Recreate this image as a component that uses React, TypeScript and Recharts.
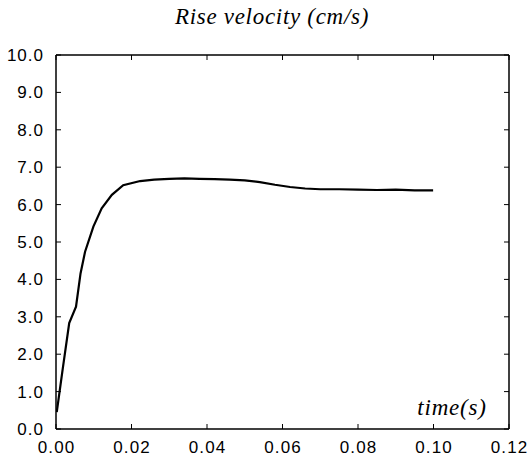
import React from "react";
import { LineChart, Line, XAxis, YAxis } from "recharts";

const timeValues = [0.0002, 0.0018, 0.0035, 0.0053, 0.0065, 0.0077, 0.0099, 0.0121, 0.0148, 0.0178, 0.0223, 0.026, 0.03, 0.034, 0.038, 0.042, 0.046, 0.05, 0.054, 0.058, 0.062, 0.066, 0.07, 0.075, 0.08, 0.085, 0.09, 0.095, 0.0999];
const velocityValues = [0.45, 1.62, 2.83, 3.27, 4.16, 4.74, 5.41, 5.9, 6.26, 6.52, 6.63, 6.67, 6.69, 6.7, 6.69, 6.68, 6.67, 6.65, 6.6, 6.53, 6.47, 6.43, 6.41, 6.41, 6.4, 6.39, 6.4, 6.38, 6.38];
const xTicks = [0, 0.02, 0.04, 0.06, 0.08, 0.1, 0.12];
const yTicks = [0, 1, 2, 3, 4, 5, 6, 7, 8, 9, 10];
const titleText = "Rise velocity (cm/s)";
const xLabelText = "time(s)";

const data = timeValues.map((t, i) => ({ t, v: velocityValues[i] }));

const TICK_LEN = 5;
const tickFont = "'Liberation Sans', Arial, sans-serif";
const serifFont = "'Liberation Serif', 'Times New Roman', serif";

const BottomTick = (props: any) => {
  const { x, y, payload } = props;
  return (
    <g>
      <line x1={x} x2={x} y1={y} y2={y - TICK_LEN} stroke="#000" strokeWidth={1} />
      <text x={x + 0.6} y={y + 24} textAnchor="middle" fontFamily={tickFont} fontSize={17} letterSpacing={1.2} fill="#000">
        {Number(payload.value).toFixed(2)}
      </text>
    </g>
  );
};

const TopTick = (props: any) => {
  const { x, y } = props;
  return <line x1={x} x2={x} y1={y} y2={y + TICK_LEN} stroke="#000" strokeWidth={1} />;
};

const LeftTick = (props: any) => {
  const { x, y, payload } = props;
  return (
    <g>
      <line x1={x} x2={x + TICK_LEN} y1={y} y2={y} stroke="#000" strokeWidth={1} />
      <text x={x - 12} y={y + 6} textAnchor="end" fontFamily={tickFont} fontSize={17} letterSpacing={1} fill="#000">
        {Number(payload.value).toFixed(1)}
      </text>
    </g>
  );
};

const RightTick = (props: any) => {
  const { x, y } = props;
  return <line x1={x} x2={x - TICK_LEN} y1={y} y2={y} stroke="#000" strokeWidth={1} />;
};

export default function App() {
  return (
    <div style={{ position: "absolute", left: 0, top: 0, width: 531, height: 461, background: "#fff" }}>
      <LineChart width={531} height={461} data={data} margin={{ top: 50, right: 17, left: 0, bottom: 0 }}>
        <XAxis
          dataKey="t"
          type="number"
          domain={[0, 0.12]}
          ticks={xTicks}
          xAxisId="bottom"
          orientation="bottom"
          height={32}
          tickSize={0}
          tickMargin={0}
          tickLine={false}
          tick={<BottomTick />}
          axisLine={{ stroke: "#000", strokeWidth: 1.5 }}
          allowDataOverflow
          interval={0}
        />
        <XAxis
          dataKey="t"
          type="number"
          domain={[0, 0.12]}
          ticks={xTicks}
          xAxisId="top"
          orientation="top"
          height={5}
          tickSize={0}
          tickMargin={0}
          tickLine={false}
          tick={<TopTick />}
          axisLine={{ stroke: "#000", strokeWidth: 1.5 }}
          allowDataOverflow
          interval={0}
        />
        <YAxis
          type="number"
          domain={[0, 10]}
          ticks={yTicks}
          yAxisId="left"
          orientation="left"
          width={56}
          tickSize={0}
          tickMargin={0}
          tickLine={false}
          tick={<LeftTick />}
          axisLine={{ stroke: "#000", strokeWidth: 1.5 }}
          allowDataOverflow
          interval={0}
        />
        <YAxis
          type="number"
          domain={[0, 10]}
          ticks={yTicks}
          yAxisId="right"
          orientation="right"
          width={5}
          tickSize={0}
          tickMargin={0}
          tickLine={false}
          tick={<RightTick />}
          axisLine={{ stroke: "#000", strokeWidth: 1.5 }}
          allowDataOverflow
          interval={0}
        />
        <Line
          xAxisId="bottom"
          yAxisId="left"
          dataKey="v"
          type="linear"
          stroke="#000"
          strokeWidth={2.2}
          dot={false}
          isAnimationActive={false}
        />
      </LineChart>
      <svg width={531} height={461} style={{ position: "absolute", left: 0, top: 0, pointerEvents: "none" }}>
        <text x={272} y={24} textAnchor="middle" fontFamily={serifFont} fontStyle="italic" fontSize={23} letterSpacing={0.7} fill="#000">
          {titleText}
        </text>
        <text x={452} y={415} textAnchor="middle" fontFamily={serifFont} fontStyle="italic" fontSize={23} letterSpacing={0.8} fill="#000">
          {xLabelText}
        </text>
      </svg>
    </div>
  );
}
